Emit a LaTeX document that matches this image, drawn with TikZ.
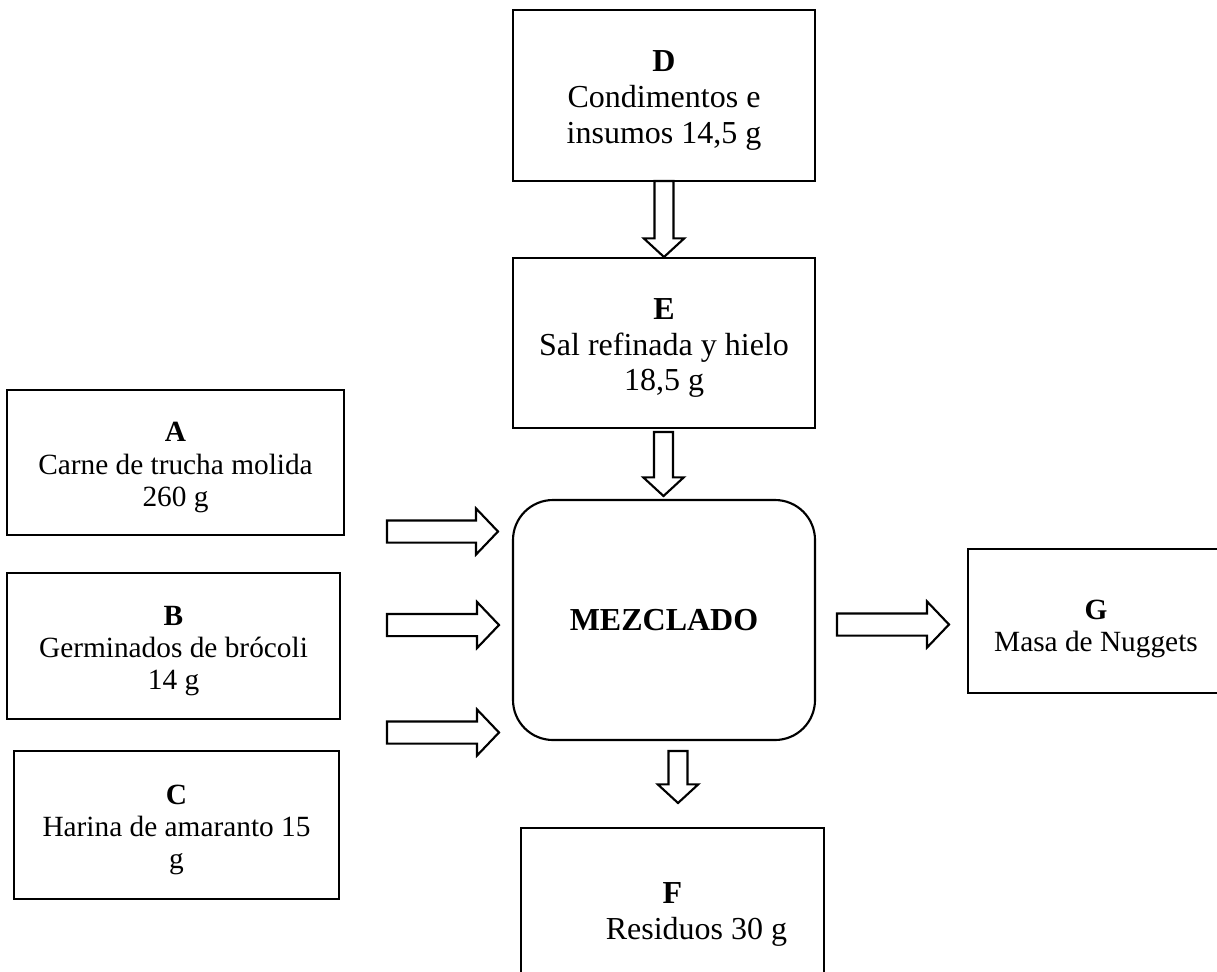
\documentclass[tikz,border=0pt]{standalone}
\usepackage{fontspec}
\setmainfont{Liberation Serif}
\usetikzlibrary{calc}
% one drawing unit = 0.75pt
\newcommand\upx{*0.75pt}
% tall first-line struts that push each text block slightly down in its box
\newcommand\bigstrut{\rule{0pt}{23.4pt}}
\newcommand\smallstrut{\rule{0pt}{22pt}}
\tikzset{
  boxnode/.style={draw, rectangle, line width=2.1pt, inner sep=0pt, align=center,
    font=\fontsize{22}{24.2}\selectfont},
  bigtext/.style={font=\fontsize{24}{26.8}\selectfont},
  procnode/.style={draw, rectangle, rounded corners=30pt, line width=1.6pt, inner sep=0pt,
    align=center, font=\fontsize{24}{26.8}\selectfont\bfseries},
  blockarr/.style={draw, fill=white, line width=1.6pt, line join=miter,
    to path={
      ($(\tikztotarget)!\ahl!(\tikztostart)$) coordinate (bhH)
      ($(\tikztostart)!\ahw!90:(\tikztotarget)$)
      -- ($(bhH)!\ahw!90:(\tikztotarget)$)
      -- ($(bhH)!\ahh!90:(\tikztotarget)$)
      -- (\tikztotarget)
      -- ($(bhH)!\ahh!-90:(\tikztotarget)$)
      -- ($(bhH)!\ahw!-90:(\tikztotarget)$)
      -- ($(\tikztostart)!\ahw!-90:(\tikztotarget)$)
      -- cycle}},
  varr/.style={blockarr, /utils/exec={\def\ahw{7.1pt}\def\ahh{15.2pt}\def\ahl{14pt}}},
  harr/.style={blockarr, /utils/exec={\def\ahw{8.3pt}\def\ahh{17.3pt}\def\ahl{16.5pt}}},
}
\begin{document}
\begin{tikzpicture}[x=0.75pt, y=-0.75pt]
\useasboundingbox (0,0) rectangle (1217,971);
\clip (0,0) rectangle (1217,971);

% process boxes
\node[boxnode, bigtext, minimum width=302\upx, minimum height=171\upx] (D) at (664,95.5)
  {\bigstrut\textbf{D}\\Condimentos e\\insumos 14,5 g};
\node[boxnode, bigtext, minimum width=302\upx, minimum height=170\upx] (E) at (664,343)
  {\bigstrut\textbf{E}\\Sal refinada y hielo\\18,5 g};
\node[procnode, minimum width=302\upx, minimum height=240\upx] (M) at (664,620) {MEZCLADO};
\node[boxnode, bigtext, minimum width=303\upx, minimum height=162\upx] (F) at (672.5,909)
  {\bigstrut\textbf{F}\\\hspace*{36pt}Residuos 30 g};
\node[boxnode, minimum width=337\upx, minimum height=145\upx] (A) at (175.5,462.5)
  {\smallstrut\textbf{A}\\Carne de trucha molida\\260 g};
\node[boxnode, minimum width=333\upx, minimum height=146\upx] (B) at (173.5,646)
  {\smallstrut\textbf{B}\\Germinados de brócoli\\14 g};
\node[boxnode, minimum width=325\upx, minimum height=148\upx] (C) at (176.5,825)
  {\smallstrut\textbf{C}\\Harina de amaranto 15\\g};
\node[boxnode, minimum width=256\upx, minimum height=144\upx] (G) at (1096,621)
  {\rule{0pt}{26pt}\textbf{G}\\Masa de Nuggets};

% arrow end points
\coordinate (d1) at (664,181);   \coordinate (d2) at (664,257);
\coordinate (e1) at (663.5,432); \coordinate (e2) at (663.5,496);
\coordinate (f1) at (678,751);   \coordinate (f2) at (678,803);
\coordinate (a1) at (387,531.5); \coordinate (a2) at (498,531.5);
\coordinate (b1) at (387,625);   \coordinate (b2) at (499,625);
\coordinate (c1) at (387,732.5); \coordinate (c2) at (499,732.5);
\coordinate (g1) at (837,624.5); \coordinate (g2) at (949,624.5);

% hollow block arrows
\draw[varr] (d1) to (d2);
\draw[varr] (e1) to (e2);
\draw[varr] (f1) to (f2);
\draw[harr] (a1) to (a2);
\draw[harr] (b1) to (b2);
\draw[harr] (c1) to (c2);
\draw[harr] (g1) to (g2);
\end{tikzpicture}
\end{document}
